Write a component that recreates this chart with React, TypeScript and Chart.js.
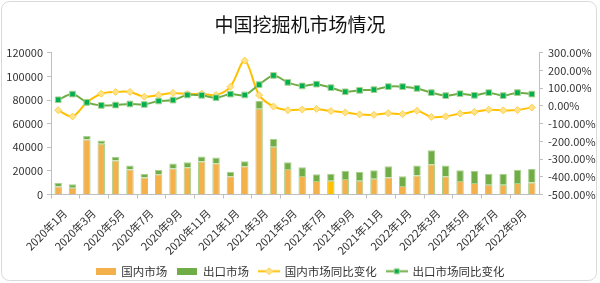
import React, { useEffect, useRef } from 'react';
import { Chart, registerables } from 'chart.js';

Chart.register(...registerables);

const categories = [
  '2020年1月', '2020年2月', '2020年3月', '2020年4月', '2020年5月', '2020年6月',
  '2020年7月', '2020年8月', '2020年9月', '2020年10月', '2020年11月', '2020年12月',
  '2021年1月', '2021年2月', '2021年3月', '2021年4月', '2021年5月', '2021年6月',
  '2021年7月', '2021年8月', '2021年9月', '2021年10月', '2021年11月', '2021年12月',
  '2022年1月', '2022年2月', '2022年3月', '2022年4月', '2022年5月', '2022年6月',
  '2022年7月', '2022年8月', '2022年9月', '2022年10月',
];

const domesticMarket = [
  6800, 5800, 46500, 43000, 28700, 21200, 14500, 17200, 22000, 23100, 27900, 26500,
  15400, 23900, 72600, 40400, 21700, 15600, 11400, 11700, 13100, 11700, 13300, 14400,
  7100, 16100, 25700, 15400, 11400, 9700, 8300, 8300, 9800, 10200,
];

const exportMarket = [
  2900, 2900, 3000, 2800, 3100, 3300, 3100, 3700, 4200, 4200, 4200, 4900,
  3900, 4300, 6800, 6500, 5600, 7400, 5700, 5900, 7100, 7400, 7200, 9500,
  8400, 8400, 11800, 9100, 9100, 10200, 9300, 9300, 11200, 11400,
];

const domesticYoY = [
  -24, -60, 20, 69, 79, 79, 52, 62, 73, 67, 69, 62,
  109, 256, 61, -3, -24, -20, -17, -29, -37, -48, -50, -41,
  -46, -27, -62, -59, -43, -34, -21, -25, -23, -9,
];

const exportYoY = [
  35, 67, 20, 3, 5, 11, 8, 28, 33, 62, 60, 46,
  67, 62, 120, 172, 133, 113, 123, 103, 80, 88, 92, 109,
  109, 99, 75, 58, 69, 60, 75, 58, 75, 67,
];

const seriesNames = ['国内市场', '出口市场', '国内市场同比变化', '出口市场同比变化'];
const highlightIndex = 19;

const ORANGE = '#F4B04A';
const YELLOW_BAR = '#FFC000';
const GREEN = '#70AD47';
const LIGHT_GREEN = '#A9D18E';
const LINE_YELLOW = '#FFC000';
const MARK_YELLOW = '#FFE38A';
const MARK_GREEN = '#00B050';
const AXIS = '#BFBFBF';
const TEXT = '#333333';
const FONT = '"Noto Sans CJK SC", "Noto Sans", sans-serif';

function boxIcon(color: string): HTMLCanvasElement {
  const c = document.createElement('canvas');
  c.width = 20;
  c.height = 7;
  const ctx = c.getContext('2d')!;
  ctx.fillStyle = color;
  ctx.fillRect(0, 0, 20, 7);
  return c;
}

function lineIcon(lineColor: string, markFill: string, markStroke: string, diamond: boolean): HTMLCanvasElement {
  const c = document.createElement('canvas');
  c.width = 22;
  c.height = 9;
  const ctx = c.getContext('2d')!;
  ctx.strokeStyle = lineColor;
  ctx.lineWidth = 2;
  ctx.beginPath();
  ctx.moveTo(0, 4.5);
  ctx.lineTo(22, 4.5);
  ctx.stroke();
  ctx.fillStyle = markFill;
  ctx.strokeStyle = markStroke;
  ctx.lineWidth = 1;
  ctx.beginPath();
  if (diamond) {
    ctx.moveTo(11, 1);
    ctx.lineTo(14.5, 4.5);
    ctx.lineTo(11, 8);
    ctx.lineTo(7.5, 4.5);
    ctx.closePath();
  } else {
    ctx.rect(8.5, 2, 5, 5);
  }
  ctx.fill();
  ctx.stroke();
  return c;
}

const framePlugin = {
  id: 'frame',
  beforeDraw(chart: any) {
    const ctx = chart.ctx;
    ctx.save();
    ctx.fillStyle = '#ffffff';
    ctx.fillRect(0, 0, chart.width, chart.height);
    ctx.strokeStyle = '#D9D9D9';
    ctx.lineWidth = 1;
    ctx.beginPath();
    (ctx as any).roundRect(1.5, 1.5, 595, 279, 8);
    ctx.stroke();
    ctx.restore();
  },
};

export default function App() {
  const ref = useRef<HTMLCanvasElement | null>(null);

  useEffect(() => {
    document.body.style.margin = '0';
    if (!ref.current) return;
    Chart.defaults.font.family = FONT;
    Chart.defaults.color = TEXT;

    const icons = [
      boxIcon(ORANGE),
      boxIcon(GREEN),
      lineIcon(LINE_YELLOW, MARK_YELLOW, '#FFD24D', true),
      lineIcon(GREEN, MARK_GREEN, LIGHT_GREEN, false),
    ];

    const chart = new Chart(ref.current, {
      type: 'bar',
      data: {
        labels: categories,
        datasets: [
          {
            type: 'bar',
            label: seriesNames[0],
            data: domesticMarket,
            backgroundColor: domesticMarket.map((_, i) => (i === highlightIndex ? YELLOW_BAR : ORANGE)),
            borderColor: LIGHT_GREEN,
            borderWidth: 1,
            yAxisID: 'y',
            stack: 's',
            order: 2,
            barPercentage: 0.52,
            categoryPercentage: 1,
          },
          {
            type: 'bar',
            label: seriesNames[1],
            data: exportMarket,
            backgroundColor: GREEN,
            borderColor: LIGHT_GREEN,
            borderWidth: 1,
            yAxisID: 'y',
            stack: 's',
            order: 2,
            barPercentage: 0.52,
            categoryPercentage: 1,
          },
          {
            type: 'line',
            label: seriesNames[2],
            data: domesticYoY,
            borderColor: LINE_YELLOW,
            borderWidth: 2,
            backgroundColor: MARK_YELLOW,
            pointBackgroundColor: MARK_YELLOW,
            pointBorderColor: '#FFD24D',
            pointBorderWidth: 1,
            pointStyle: 'rectRot',
            pointRadius: 3.5,
            tension: 0.3,
            yAxisID: 'y1',
            order: 1,
          },
          {
            type: 'line',
            label: seriesNames[3],
            data: exportYoY,
            borderColor: GREEN,
            borderWidth: 2,
            backgroundColor: MARK_GREEN,
            pointBackgroundColor: MARK_GREEN,
            pointBorderColor: LIGHT_GREEN,
            pointBorderWidth: 1,
            pointStyle: 'rect',
            pointRadius: 4,
            tension: 0.3,
            yAxisID: 'y1',
            order: 0,
          },
        ] as any,
      },
      options: {
        responsive: false,
        animation: false,
        layout: { padding: { left: 0, right: 0, top: 0, bottom: -4 } },
        plugins: {
          tooltip: { enabled: false },
          title: {
            display: true,
            text: '中国挖掘机市场情况',
            color: '#111111',
            font: { size: 19, weight: 'normal', family: FONT },
            padding: { top: 13, bottom: 17 },
          },
          legend: {
            position: 'bottom',
            labels: {
              usePointStyle: true,
              pointStyleWidth: 20,
              padding: 10,
              color: TEXT,
              font: { size: 11.5, family: FONT },
              sort: (a: any, b: any) => a.datasetIndex - b.datasetIndex,
              generateLabels: (chart: any) => {
                const items = (Chart.defaults.plugins.legend.labels as any).generateLabels(chart);
                return items.map((it: any) => ({ ...it, pointStyle: icons[it.datasetIndex], lineWidth: 0 }));
              },
            },
          },
        },
        scales: {
          x: {
            stacked: true,
            offset: true,
            grid: {
              offset: true,
              drawOnChartArea: false,
              tickLength: 4,
              color: (ctx: any) => (ctx.index % 2 === 0 ? AXIS : 'rgba(0,0,0,0)'),
            },
            border: { color: AXIS },
            ticks: {
              autoSkip: false,
              minRotation: 45,
              maxRotation: 45,
              labelOffset: 7,
              padding: 8,
              color: TEXT,
              font: { size: 11, family: FONT },
              callback: (_v: any, i: number) => (i % 2 === 0 ? categories[i] : ''),
            },
            afterFit: (scale: any) => {
              scale.height = 61;
            },
          },
          y: {
            position: 'left',
            stacked: true,
            min: 0,
            max: 120000,
            grid: { drawOnChartArea: false, tickLength: 4, color: AXIS },
            border: { color: AXIS },
            ticks: {
              stepSize: 20000,
              padding: 4,
              color: TEXT,
              font: { size: 11, family: FONT },
              callback: (v: any) => String(v),
            },
            afterFit: (scale: any) => {
              scale.width = 51;
            },
          },
          y1: {
            position: 'right',
            min: -500,
            max: 300,
            grid: { drawOnChartArea: false, tickLength: 4, color: AXIS },
            border: { color: AXIS },
            ticks: {
              stepSize: 100,
              padding: 5,
              color: TEXT,
              font: { size: 11, family: FONT },
              callback: (v: any) => Number(v).toFixed(2) + '%',
            },
            afterFit: (scale: any) => {
              scale.width = 61;
            },
          },
        },
      } as any,
      plugins: [framePlugin],
    });

    return () => chart.destroy();
  }, []);

  return (
    <div style={{ width: 600, height: 283, position: 'relative' }}>
      <canvas ref={ref} width={600} height={283} style={{ display: 'block', width: 600, height: 283 }} />
    </div>
  );
}
